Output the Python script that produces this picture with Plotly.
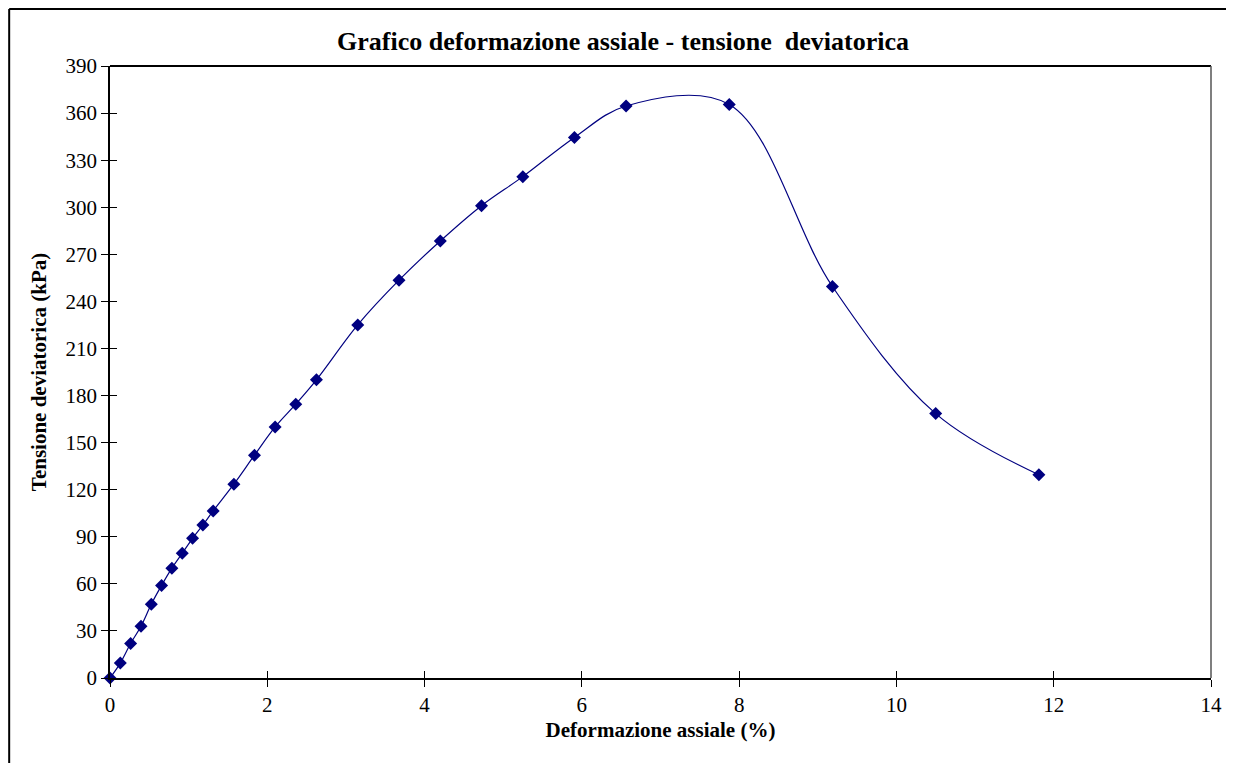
import plotly.graph_objects as go

# Data
deformazione = [0.0, 0.131, 0.262, 0.394, 0.525, 0.656, 0.787, 0.919, 1.05, 1.181,
                1.312, 1.575, 1.837, 2.1, 2.362, 2.625, 3.15, 3.675, 4.2, 4.724,
                5.249, 5.906, 6.562, 7.874, 9.186, 10.499, 11.811]
tensione = [0.0, 9.5, 22.0, 33.0, 47.0, 59.0, 70.0, 79.5, 89.0, 97.5,
            106.5, 123.5, 142.0, 160.0, 174.5, 190.0, 225.0, 253.5, 278.5, 301.0,
            319.5, 344.5, 364.5, 365.5, 249.5, 168.5, 129.5]

x_ticks = [0, 2, 4, 6, 8, 10, 12, 14]
y_ticks = list(range(0, 391, 30))

title_text = "Grafico deformazione assiale - tensione \u00a0deviatorica"
x_title = "Deformazione assiale (%)"
y_title = "Tensione deviatorica (kPa)"

FONT = "Liberation Serif, Times New Roman, serif"
NAVY = "#000080"

W, H = 1226, 755  # page has an 8px body margin

fig = go.Figure()
fig.add_trace(go.Scatter(
    x=deformazione, y=tensione, mode="lines+markers",
    line=dict(color=NAVY, width=1.2, shape="spline", smoothing=1.0),
    marker=dict(symbol="diamond", size=10, color=NAVY),
    cliponaxis=False, showlegend=False, hoverinfo="x+y",
))
# invisible trace for the overlay axes (inside half of the cross ticks)
fig.add_trace(go.Scatter(x=[0], y=[0], xaxis="x2", yaxis="y2", mode="markers",
                         marker=dict(opacity=0), showlegend=False, hoverinfo="skip"))

axis_common = dict(showgrid=False, zeroline=False, linecolor="black", linewidth=1.5,
                   tickcolor="black", ticklen=7, tickwidth=1,
                   tickfont=dict(family=FONT, size=21, color="black"))

bx0 = -101 / 1103
by1 = 1 + 57 / 612

fig.update_layout(
    width=W, height=H,
    margin=dict(l=102, r=21, t=58, b=85),
    paper_bgcolor="white", plot_bgcolor="white",
    title=dict(text="<b>" + title_text + "</b>", x=615 / W, xanchor="center",
               y=1 - 33 / H, yanchor="middle",
               font=dict(family=FONT, size=26, color="black")),
    xaxis=dict(range=[0, 14], tickvals=x_ticks, ticks="outside",
               title=dict(text="<b>" + x_title + "</b>", standoff=6,
                          font=dict(family=FONT, size=21, color="black")),
               **axis_common),
    yaxis=dict(range=[0, 390], tickvals=y_ticks, ticks="outside",
               title=dict(text="<b>" + y_title + "</b>", standoff=13,
                          font=dict(family=FONT, size=21, color="black")),
               **axis_common),
    xaxis2=dict(range=[0, 14], tickvals=x_ticks, ticks="inside", overlaying="x",
                anchor="y", side="bottom", showticklabels=False, showgrid=False,
                zeroline=False, showline=False, ticklen=7, tickcolor="black"),
    yaxis2=dict(range=[0, 390], tickvals=y_ticks, ticks="inside", overlaying="y",
                anchor="x", side="left", showticklabels=False, showgrid=False,
                zeroline=False, showline=False, ticklen=7, tickcolor="black"),
    shapes=[
        # top border of plot area
        dict(type="line", xref="paper", yref="paper", x0=0, x1=1, y0=1, y1=1,
             line=dict(color="black", width=2)),
        # right border of plot area
        dict(type="line", xref="paper", yref="paper", x0=1, x1=1, y0=0, y1=1,
             line=dict(color="#555555", width=1.5)),
        # outer chart border: left and top edges
        dict(type="line", xref="paper", yref="paper", x0=bx0, x1=bx0, y0=-0.5, y1=by1,
             line=dict(color="black", width=2), layer="below"),
        dict(type="line", xref="paper", yref="paper", x0=bx0, x1=1.5, y0=by1, y1=by1,
             line=dict(color="black", width=2), layer="below"),
    ],
)

fig.write_html("out.html")
